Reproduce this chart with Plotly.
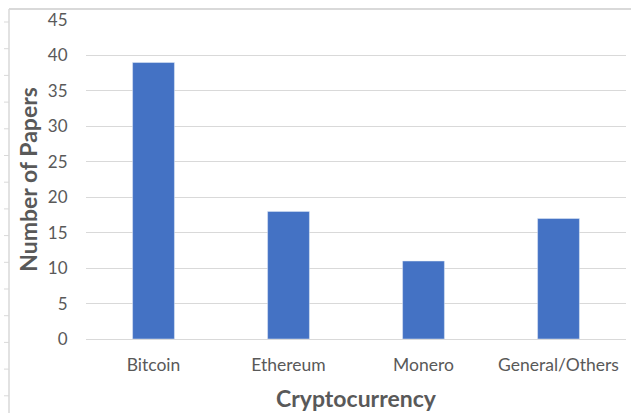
import plotly.graph_objects as go

categories = ["Bitcoin", "Ethereum", "Monero", "General/Others"]
papers = [39, 18, 11, 17]
y_ticks = [0, 5, 10, 15, 20, 25, 30, 35, 40, 45]

W, H = 631, 413
L, R, T, B = 86, 5, 20, 74
pw, ph = W - L - R, H - T - B

def px(x):
    return (x - L) / pw

def py(y):
    return (H - B - y) / ph

text_col = "#595959"
font_fam = "Lato, 'Open Sans', sans-serif"

fig = go.Figure(go.Bar(x=categories, y=papers, marker_color="#4472C4", width=0.31))

shapes = [
    dict(type="line", xref="paper", yref="paper", x0=px(9), x1=px(631), y0=py(9), y1=py(9),
         line=dict(color="#d9d9d9", width=2)),
    dict(type="line", xref="paper", yref="paper", x0=px(9), x1=px(9), y0=py(9), y1=py(413),
         line=dict(color="#d9d9d9", width=1.5)),
]
yy = 22.0
while yy < 413:
    shapes.append(dict(type="line", xref="paper", yref="paper", x0=px(4), x1=px(9),
                       y0=py(yy), y1=py(yy), line=dict(color="#d9d9d9", width=1)))
    yy += 26.7

fig.update_layout(
    width=W, height=H,
    margin=dict(l=L, r=R, t=T, b=B),
    paper_bgcolor="white", plot_bgcolor="white",
    showlegend=False,
    bargap=0.69,
    font=dict(family=font_fam, color=text_col, size=17),
    shapes=shapes,
    xaxis=dict(
        showgrid=False, showline=False, zeroline=False,
        ticks="outside", ticklen=10, tickcolor="rgba(0,0,0,0)",
        tickfont=dict(size=17.5, color=text_col),
        title=dict(text="<b>Cryptocurrency</b>", font=dict(size=23, color=text_col), standoff=16),
    ),
    yaxis=dict(
        range=[0, 45], tickvals=y_ticks,
        showgrid=True, gridcolor="#d9d9d9", gridwidth=1,
        zeroline=True, zerolinecolor="#d9d9d9", zerolinewidth=1,
        showline=False,
        ticks="outside", ticklen=14, tickcolor="rgba(0,0,0,0)",
        tickfont=dict(size=17, color=text_col),
        title=dict(text="<b>Number of Papers</b>", font=dict(size=23, color=text_col), standoff=3),
    ),
)

fig.write_html("out.html")
